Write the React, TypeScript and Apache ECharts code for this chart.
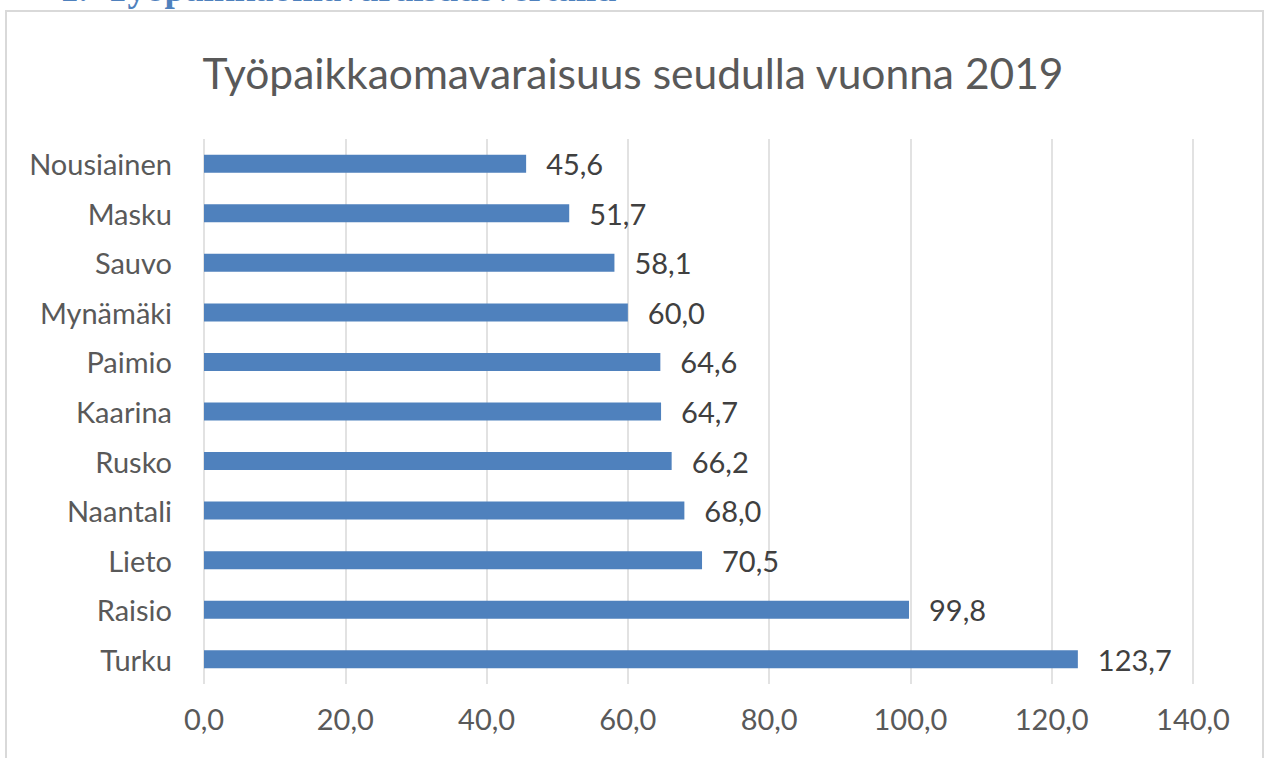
import React, { useEffect, useRef } from "react";
import * as echarts from "echarts";

const categories = ["Turku", "Raisio", "Lieto", "Naantali", "Rusko", "Kaarina", "Paimio", "Mynämäki", "Sauvo", "Masku", "Nousiainen"];
const values = [123.7, 99.8, 70.5, 68.0, 66.2, 64.7, 64.6, 60.0, 58.1, 51.7, 45.6];
const titleText = "Työpaikkaomavaraisuus seudulla vuonna 2019";
const headingText = "1.  Työpaikkaomavaraisuusvertailu";

const fmt = (v: number) => v.toFixed(1).replace(".", ",");

export default function App() {
  const ref = useRef<HTMLDivElement>(null);
  useEffect(() => {
    const chart = echarts.init(ref.current!, null, { renderer: "svg" });
    const font = "Lato, 'Open Sans', sans-serif";
    chart.setOption({
      animation: false,
      backgroundColor: "#ffffff",
      title: {
        text: titleText,
        left: "center",
        top: 46,
        textStyle: { fontFamily: font, fontSize: 42.5, fontWeight: "normal", color: "#595959" },
      },
      graphic: [
        {
          type: "rect",
          shape: { x: 6, y: 11, width: 1257, height: 760 },
          style: { fill: "none", stroke: "#d9d9d9", lineWidth: 2 },
          silent: true,
        },
        {
          type: "text",
          left: 60,
          top: -30,
          style: {
            text: headingText,
            font: "bold 37px 'Liberation Serif', 'DejaVu Serif', serif",
            fill: "#4f81bd",
          },
        },
      ],
      grid: { left: 204, right: 73, top: 139, height: 545 },
      xAxis: {
        type: "value",
        min: 0,
        max: 140,
        interval: 20,
        axisLine: { show: false },
        axisTick: { show: false },
        splitLine: { lineStyle: { color: "#d9d9d9", width: 1.5 } },
        axisLabel: {
          formatter: (v: number) => fmt(v),
          fontFamily: font,
          fontSize: 29,
          color: "#595959",
          margin: 20,
        },
      },
      yAxis: {
        type: "category",
        data: categories,
        axisLine: { show: false },
        axisTick: { show: false },
        axisLabel: { fontFamily: font, fontSize: 29, color: "#595959", margin: 32 },
      },
      series: [
        {
          type: "bar",
          data: values,
          barWidth: 18,
          itemStyle: { color: "#4f81bd" },
          label: {
            show: true,
            position: "right",
            distance: 20,
            formatter: (p: any) => fmt(p.value),
            fontFamily: font,
            fontSize: 29,
            color: "#404040",
          },
        },
      ],
    });
    return () => chart.dispose();
  }, []);
  return <div ref={ref} style={{ position: "fixed", left: 0, top: 0, width: 1266, height: 758 }} />;
}
